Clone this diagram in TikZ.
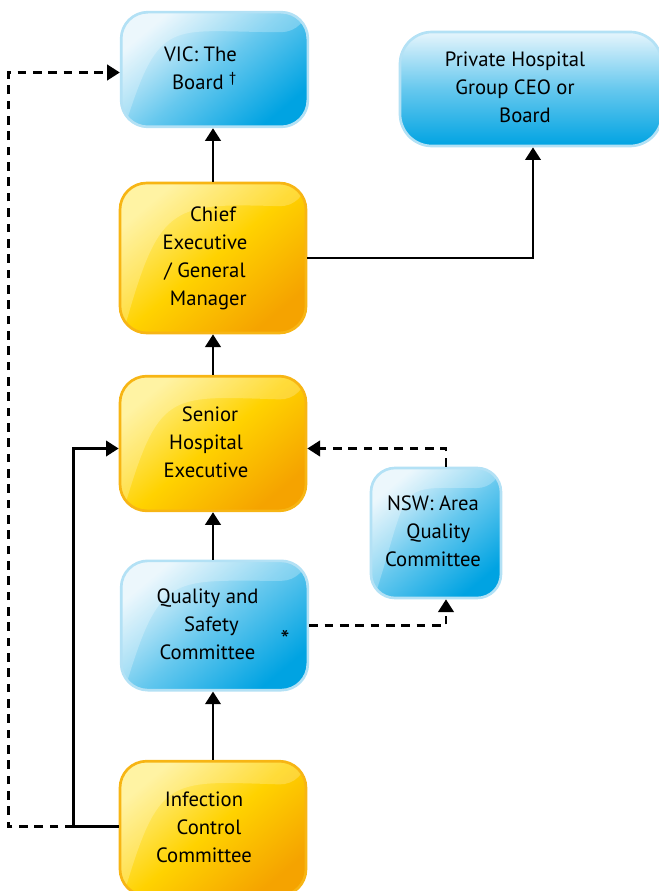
\documentclass[tikz,border=0pt]{standalone}
\usepackage{fontspec}
\setmainfont{PT Sans}
\usetikzlibrary{arrows.meta,calc}
\definecolor{blueL}{HTML}{E6F5FC}
\definecolor{blueM}{HTML}{66C8EE}
\definecolor{blueD}{HTML}{00A3E2}
\definecolor{blueB}{HTML}{B3E1F5}
\definecolor{yelL}{HTML}{FFF08A}
\definecolor{yelM}{HTML}{FFD200}
\definecolor{yelD}{HTML}{F5A300}
\definecolor{yelB}{HTML}{F7B514}
\newcommand\btext[3]{\raisebox{#2}{\begin{tabular}{@{}c@{}}#3\end{tabular}}\hspace*{#1}}
\tikzset{
  box/.style={rounded corners=20pt, line width=2pt, inner sep=0pt,
    font=\fontsize{15.5}{21}\selectfont, text=black},
  bluebox/.style={box, draw=blueB, top color=blueL, bottom color=blueD, middle color=blueM, shading angle=40,
    path picture={\fill[white,opacity=0.25] ([yshift=-8pt]path picture bounding box.south west) .. controls ([xshift=30pt,yshift=40pt]path picture bounding box.west) and ([xshift=-30pt,yshift=-15pt]path picture bounding box.north) .. ([yshift=-15pt]path picture bounding box.north east) -- (path picture bounding box.north east) -- (path picture bounding box.north west) -- cycle;}},
  yelbox/.style={box, draw=yelB, top color=yelL, bottom color=yelD, middle color=yelM, shading angle=40,
    path picture={\fill[white,opacity=0.22] ([yshift=-8pt]path picture bounding box.south west) .. controls ([xshift=30pt,yshift=40pt]path picture bounding box.west) and ([xshift=-30pt,yshift=-15pt]path picture bounding box.north) .. ([yshift=-18pt]path picture bounding box.north east) -- (path picture bounding box.north east) -- (path picture bounding box.north west) -- cycle;}},
  conn/.style={line width=2.1pt, -{Triangle[length=9.5pt,width=11.5pt]}},
  dconn/.style={conn, dash pattern=on 6.5pt off 5pt},
}
\begin{document}
\begin{tikzpicture}[x=0.75pt,y=-0.75pt]
\useasboundingbox (0,0) rectangle (659,891);
\node[bluebox, minimum width=140pt, minimum height=86pt] (vic) at (214.5,69.5) {\btext{21pt}{7.5pt}{VIC: The\\ \hspace*{6pt}Board \textsuperscript{†}}};
\node[box, draw=blueB, top color=blueL, bottom color=blueD, middle color=blueM, rounded corners=24pt,
  minimum width=196.5pt, minimum height=85.5pt] (priv) at (531,89) {\btext{24pt}{4.5pt}{Private Hospital\\Group CEO or\\\hspace*{15pt}Board}};
\node[yelbox, minimum width=139.5pt, minimum height=112.5pt] (chief) at (213,258) {\btext{12pt}{4.5pt}{\hspace*{12pt}Chief\\Executive\\/ General\\\hspace*{5pt}Manager}};
\node[yelbox, minimum width=139.5pt, minimum height=101pt] (senior) at (213,443.5) {\btext{10.5pt}{0pt}{\hspace*{6pt}Senior\\Hospital\\Executive}};
\node[bluebox, rounded corners=18pt, minimum width=97.5pt, minimum height=97.5pt] (nsw) at (436,533) {\btext{4.5pt}{9pt}{NSW: Area\\\hspace*{8pt}Quality\\Committee}};
\node[bluebox, minimum width=140pt, minimum height=97pt] (qual) at (214.5,625.5) {\btext{10.5pt}{4pt}{Quality and\\\hspace*{6pt}Safety\\Committee}};
\node[font=\fontsize{19}{19}\selectfont] (ast) at (285,639) {*};
\node[yelbox, minimum width=139.5pt, minimum height=101pt] (inf) at (213,828.5) {\btext{13.5pt}{0pt}{Infection\\\hspace*{7.5pt}Control\\Committee}};

\draw[conn] (chief.north) -- (chief.north |- vic.south);
\draw[conn] (senior.north) -- (senior.north |- chief.south);
\draw[conn] (qual.north -| senior.north) -- (senior.south);
\draw[conn] (inf.north) -- (inf.north |- qual.south);
\draw[conn] (chief.east) -| ($(priv.south)+(2,0)$);
\coordinate (j) at ($(inf.west)+(-45,-2)$);
\draw[conn] ($(inf.west)+(0,-2)$) -- (j) |- ($(senior.west)+(0,5)$);
\draw[dconn] (j) -- ++(-65,0) |- ($(vic.west)+(0,3)$);
\draw[dconn] (qual.east) -| ($(nsw.south)+(10,0)$);
\draw[dconn] ($(nsw.north)+(10,0)$) |- ($(senior.east)+(0,5)$);
\end{tikzpicture}
\end{document}
